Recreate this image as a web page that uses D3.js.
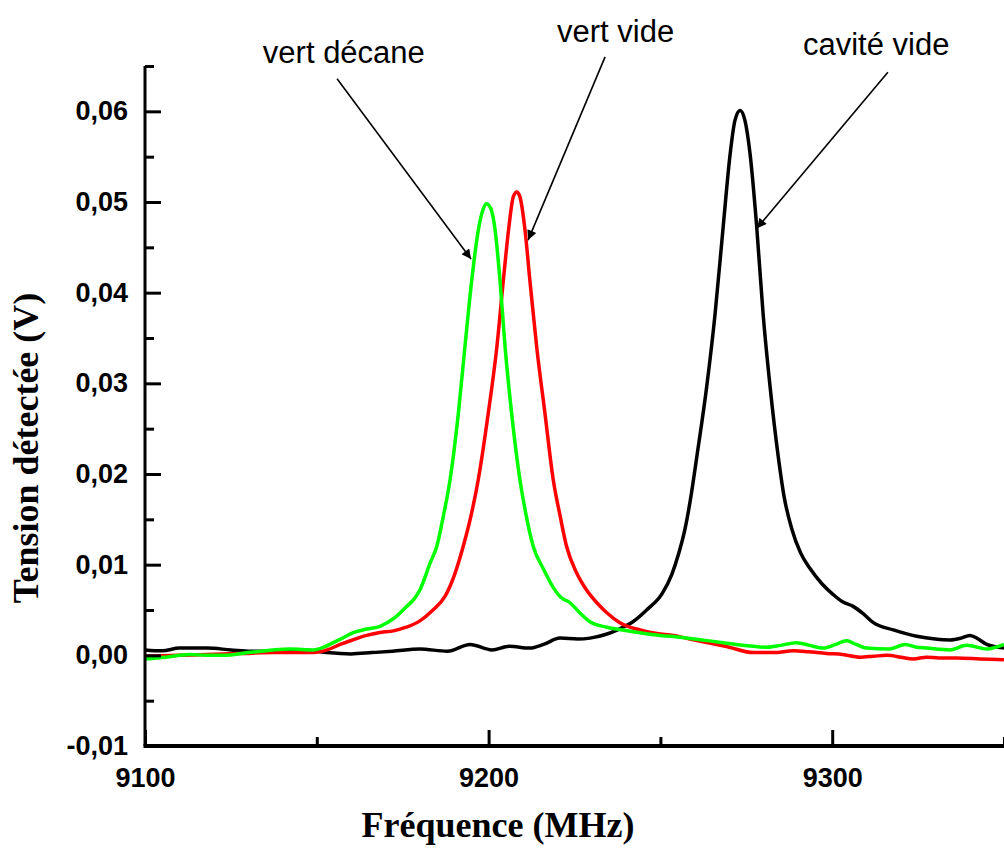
<!DOCTYPE html>
<html lang="fr">
<head>
<meta charset="UTF-8">
<title>Tension détectée</title>
<script src="https://d3js.org/d3.v7.min.js"></script>
<style>
  body { margin: 0; background: #fff; }
  .tick text { font-family: "Liberation Sans", Arial, sans-serif; font-weight: bold; font-size: 27px; fill: #000; }
  .axis-title { font-family: "Liberation Serif", "Times New Roman", serif; font-weight: bold; font-size: 36px; }
  .note { font-family: "Liberation Sans", Arial, sans-serif; font-size: 31px; }
</style>
</head>
<body>
<svg id="chart" width="1004" height="850"></svg>
<script>
// values: [frequency MHz, volts]
const cavite = [
  [9100, 0.0006], [9105, 0.0005], [9110, 0.0008], [9118, 0.0008], [9125, 0.0006], [9131, 0.00045],
  [9140, 0.0005], [9147, 0.00056], [9153, 0.0003], [9160, 0.00016], [9166, 0.0003], [9172, 0.00045],
  [9180, 0.0007], [9188, 0.00045], [9194.6, 0.0012], [9201, 0.0006], [9206, 0.001], [9212, 0.0008],
  [9216, 0.0012], [9220.8, 0.0019], [9226, 0.0018], [9229.5, 0.0019], [9234, 0.0023], [9238, 0.0029],
  [9242, 0.0037], [9246, 0.0050], [9250.5, 0.0068], [9253.3, 0.0089], [9255.3, 0.0112], [9257.2, 0.014],
  [9259, 0.0178], [9260.6, 0.0219], [9263.5, 0.0297], [9265.9, 0.0376], [9268.3, 0.0474],
  [9270.3, 0.0553], [9271.7, 0.0590], [9273.2, 0.0601], [9274.6, 0.0590], [9276.1, 0.0553],
  [9278, 0.0474], [9279.9, 0.0376], [9281.9, 0.0297], [9284.3, 0.0219], [9286, 0.0175],
  [9288.2, 0.0140], [9290.8, 0.0113], [9293.5, 0.0096], [9297, 0.0079], [9300.3, 0.0067],
  [9303, 0.0059], [9306.1, 0.0054], [9309, 0.0046], [9312, 0.0036], [9317.8, 0.0028],
  [9324.6, 0.0021], [9330, 0.0018], [9334.3, 0.0017], [9337.5, 0.0019], [9340.1, 0.0022],
  [9342.5, 0.0018], [9345, 0.0012], [9350, 0.0008]
];
const vertVide = [
  [9100, -0.0001], [9110, 0.0000], [9118, 0.0001], [9128, 0.0002], [9137.3, 0.0003], [9149, 0.0003],
  [9153, 0.0006], [9156.8, 0.0012], [9160.5, 0.0017], [9164.5, 0.0022], [9168, 0.0025], [9172.3, 0.0027],
  [9176, 0.0031], [9180, 0.0038], [9183.5, 0.0049], [9187.3, 0.0065], [9190, 0.0088], [9192.6, 0.012],
  [9195, 0.0156], [9197, 0.0194], [9199.9, 0.0267], [9202.4, 0.034], [9204.3, 0.0414],
  [9205.8, 0.0469], [9207.2, 0.0506], [9208.2, 0.0511], [9209.1, 0.0506], [9210.6, 0.0469],
  [9212, 0.0414], [9214, 0.034], [9216.4, 0.0267], [9218.8, 0.0194], [9220.8, 0.0154],
  [9222.7, 0.012], [9225.6, 0.0091], [9228.5, 0.0072], [9231.5, 0.0058], [9234.4, 0.0047],
  [9238.2, 0.0036], [9244.1, 0.0028], [9249, 0.0024], [9253.8, 0.0022], [9258.5, 0.0018],
  [9263.5, 0.0014], [9270, 0.0009], [9277, 0.0003], [9283, 0.0003], [9288.7, 0.0005],
  [9293, 0.0004], [9298.4, 0.0002], [9303, 0.0001], [9308.1, -0.0002], [9312, -0.0001],
  [9315.9, 0.0000], [9320, -0.0002], [9323.6, -0.0004], [9327.5, -0.0002], [9331, -0.0003],
  [9336.2, -0.0003], [9343, -0.0004], [9350, -0.0005]
];
const vertDecane = [
  [9100, -0.0004], [9106, -0.0002], [9113, 0.0001], [9118, 0.0000], [9122.8, 0.0000], [9130, 0.0003],
  [9137.3, 0.0006], [9142.2, 0.0007], [9149, 0.0006], [9152, 0.0009], [9154.8, 0.0014], [9157.5, 0.0019],
  [9160.6, 0.0025], [9164.5, 0.0029], [9168.4, 0.0032], [9172.5, 0.0041], [9176.2, 0.0054], [9178.3, 0.0062],
  [9180, 0.0072], [9183, 0.0102], [9184.9, 0.012], [9186.9, 0.0155], [9188.8, 0.0194], [9191.2, 0.0267],
  [9193.1, 0.034], [9195.1, 0.0414], [9197, 0.0469], [9198.5, 0.0493], [9199.4, 0.0498], [9200.6, 0.0493],
  [9201.9, 0.0469], [9203.3, 0.0414], [9204.8, 0.034], [9206.7, 0.0267], [9209.1, 0.0194], [9211, 0.0153],
  [9213, 0.012], [9216, 0.0095], [9218.8, 0.0075], [9221, 0.0064], [9223.7, 0.0058], [9226.5, 0.0047],
  [9229.5, 0.0037], [9234.4, 0.0031], [9239, 0.0028], [9244.1, 0.0025], [9250, 0.0022], [9255.7, 0.0020],
  [9262, 0.0017], [9268.3, 0.0014], [9274, 0.0011], [9280.9, 0.0009], [9285, 0.0011], [9289.6, 0.0014],
  [9293.5, 0.0011], [9297.4, 0.0008], [9301, 0.0012], [9304.2, 0.0016], [9307, 0.0012], [9310, 0.0008],
  [9316.8, 0.0007], [9321.2, 0.0012], [9324.5, 0.0009], [9327.5, 0.0008], [9334.3, 0.0006],
  [9339.1, 0.0011], [9345, 0.0007], [9350, 0.0012]
];

const seriesNames = ["cavité vide", "vert vide", "vert décane"];
const seriesColors = ["#000000", "#ff0000", "#00ff00"];
const xMajorTicks = [9100, 9200, 9300];
const xMinorTicks = [9150, 9250, 9350];
const yMajorTicks = [-0.01, 0, 0.01, 0.02, 0.03, 0.04, 0.05, 0.06];
const yMinorTicks = [-0.005, 0.005, 0.015, 0.025, 0.035, 0.045, 0.055, 0.065];

// annotation label anchors and arrow [from, to], in data units
const notes = [
  { text: "vert décane", at: [9134.3, 0.0653], from: [9155.9, 0.0636], to: [9194.9, 0.0437] },
  { text: "vert vide",   at: [9219.9, 0.0676], from: [9233.9, 0.0660], to: [9211.5, 0.0458] },
  { text: "cavité vide", at: [9291.5, 0.0662], from: [9316.2, 0.0643], to: [9278.1, 0.0471] }
];

const svg = d3.select("#chart");
const plotLeft = 145, plotRight = 1004, plotTop = 66, plotBottom = 746;

const x = d3.scaleLinear().domain([9100, 9350]).range([plotLeft, plotRight]);
const y = d3.scaleLinear().domain([-0.01, 0.065]).range([plotBottom, plotTop]);

const fr = d3.formatLocale({ decimal: ",", thousands: " ", grouping: [3], currency: ["", " €"], minus: "-" });
const fmt = fr.format(".2f");

// curves (drawn first so axes sit on top)
const line = d3.line()
  .x(d => x(d[0]))
  .y(d => y(d[1]))
  .curve(d3.curveMonotoneX);

[cavite, vertVide, vertDecane].forEach((data, i) => {
  svg.append("path")
    .datum(data)
    .attr("fill", "none")
    .attr("stroke", seriesColors[i])
    .attr("stroke-width", 3.5)
    .attr("stroke-linejoin", "round")
    .attr("d", line);
});

// y axis, ticks pointing inward
svg.append("g")
  .attr("transform", `translate(${plotLeft},0)`)
  .call(d3.axisLeft(y).tickValues(yMajorTicks).tickFormat(fmt).tickSize(-16).tickPadding(17));
svg.append("g")
  .attr("transform", `translate(${plotLeft},0)`)
  .call(d3.axisLeft(y).tickValues(yMinorTicks).tickFormat("").tickSize(-9));

// x axis
svg.append("g")
  .attr("transform", `translate(0,${plotBottom})`)
  .call(d3.axisBottom(x).tickValues(xMajorTicks).tickFormat(d3.format("d")).tickSize(-16).tickPadding(22));
svg.append("g")
  .attr("transform", `translate(0,${plotBottom})`)
  .call(d3.axisBottom(x).tickValues(xMinorTicks).tickFormat("").tickSize(-9));

svg.selectAll(".domain").remove();
svg.selectAll(".tick line").attr("stroke", "#000").attr("stroke-width", 3);

svg.append("line")
  .attr("x1", plotLeft).attr("x2", plotLeft).attr("y1", plotTop).attr("y2", plotBottom)
  .attr("stroke", "#000").attr("stroke-width", 3);
svg.append("line")
  .attr("x1", plotLeft - 1.5).attr("x2", plotRight).attr("y1", plotBottom).attr("y2", plotBottom)
  .attr("stroke", "#000").attr("stroke-width", 4);

// axis titles
svg.append("text")
  .attr("class", "axis-title")
  .attr("x", 498).attr("y", 837)
  .attr("text-anchor", "middle")
  .text("Fréquence (MHz)");

svg.append("text")
  .attr("class", "axis-title")
  .attr("transform", "translate(38,448) rotate(-90)")
  .attr("text-anchor", "middle")
  .text("Tension détectée (V)");

// annotations with arrows
svg.append("defs").append("marker")
  .attr("id", "head")
  .attr("viewBox", "0 0 10 10")
  .attr("refX", 10).attr("refY", 5)
  .attr("markerWidth", 9).attr("markerHeight", 6)
  .attr("markerUnits", "strokeWidth")
  .attr("orient", "auto")
  .append("path")
  .attr("d", "M0,0L10,5L0,10Z")
  .attr("fill", "#000");

notes.forEach(n => {
  svg.append("text")
    .attr("class", "note")
    .attr("x", x(n.at[0])).attr("y", y(n.at[1]))
    .text(n.text);
  svg.append("line")
    .attr("x1", x(n.from[0])).attr("y1", y(n.from[1]))
    .attr("x2", x(n.to[0])).attr("y2", y(n.to[1]))
    .attr("stroke", "#000").attr("stroke-width", 1.6)
    .attr("marker-end", "url(#head)");
});
</script>
</body>
</html>
